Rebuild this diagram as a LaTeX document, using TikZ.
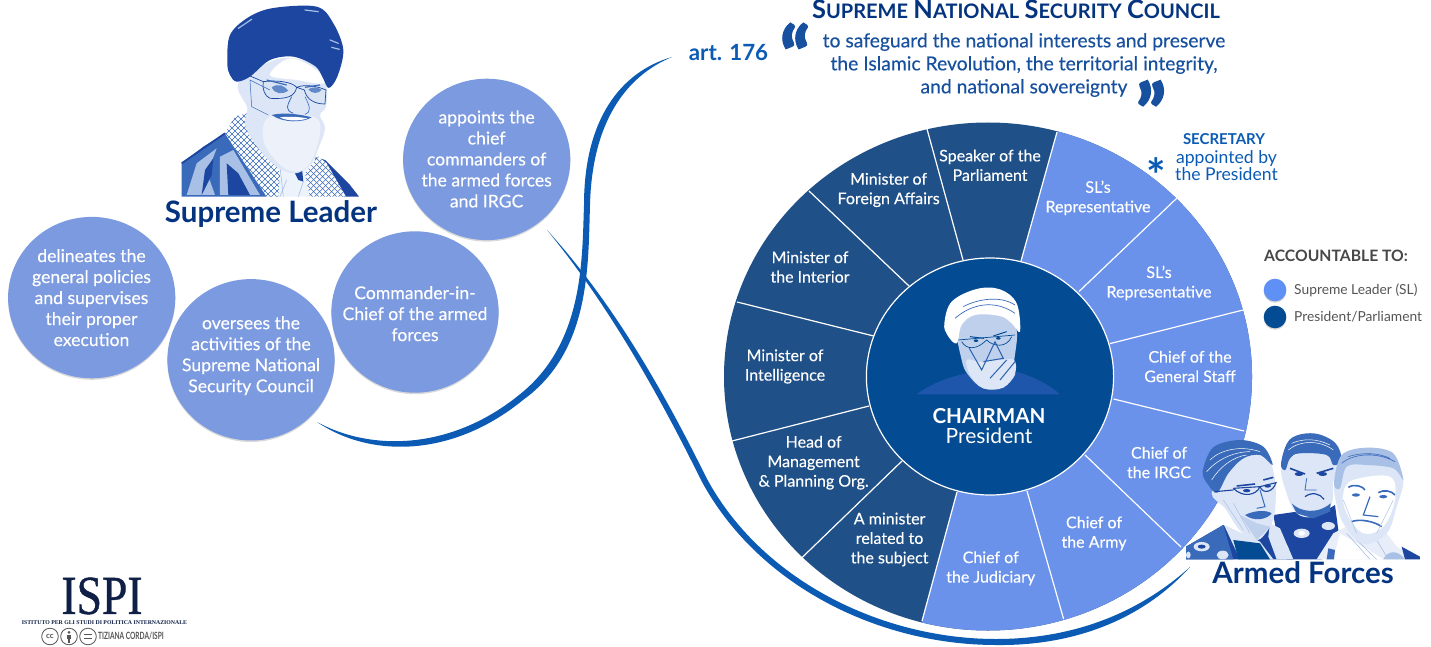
\documentclass[tikz,border=0pt]{standalone}
\usepackage{fontspec}
\setmainfont{Lato}
\newfontfamily\med{Lato}[FakeBold=0.25]
\newfontfamily\qm{Lato}[FakeBold=2.5]
\newfontfamily\serifish{Liberation Serif}
\newfontfamily\serifbold{Liberation Serif}[FakeBold=0.8]
\usetikzlibrary{shadows,calc}
\definecolor{darkslice}{HTML}{1F5087}
\definecolor{lightslice}{HTML}{6A92EA}
\definecolor{hubblue}{HTML}{034B92}
\definecolor{bubble}{HTML}{7C9ADF}
\definecolor{navy}{HTML}{04337F}
\definecolor{curveblue}{HTML}{0B5BB5}
\definecolor{quoteblue}{HTML}{17509E}
\definecolor{inkblue}{HTML}{1C46A0}
\definecolor{midink}{HTML}{3A6BBB}
\definecolor{paleink}{HTML}{A9C0E6}
\definecolor{skin}{HTML}{DCE6F6}
\definecolor{skinb}{HTML}{BFD0EC}
\definecolor{greytext}{HTML}{555555}
\definecolor{logonavy}{HTML}{0F1F45}
\definecolor{legendlight}{HTML}{5E90F5}
\definecolor{shoulder}{HTML}{1E56AC}
\newcommand{\smc}[2]{{\fontsize{25.4}{25}\selectfont #1}{\fontsize{20}{25}\selectfont #2}}
\tikzset{
  x=1pt,y=-1pt,
  bubbletext/.style={text=white,align=center,font=\med\fontsize{17.6}{21}\selectfont},
  slicetext/.style={text=white,align=center,font=\med\fontsize{16}{19.5}\selectfont},
  spoke/.style={white,line width=1.2pt},
  headline/.style={text=navy,font=\fontsize{29.5}{32}\selectfont\bfseries},
  quotetext/.style={text=quoteblue,align=center,font=\med\fontsize{19.3}{23}\selectfont},
  legendtext/.style={text=greytext,anchor=west,font=\fontsize{13.8}{16}\selectfont},
  softshadow/.style={drop shadow={shadow xshift=0pt,shadow yshift=-1.5pt,opacity=.15,fill=black}},
  zoomed/.style={x=.3333pt,y=-.3333pt},
  ink/.style={inkblue,line width=.7pt,line join=round},
}
\begin{document}
\begin{tikzpicture}
\useasboundingbox (0,0) rectangle (1431,647);
\fill[white] (0,0) rectangle (1431,647);

% ---------- bubbles
\foreach \n/\cx/\cy in {b1/91.7/297.6,b2/251/359.8,b3/415/312,b4/486.7/159.4}{
  \path[fill=bubble,softshadow] (\cx,\cy) ellipse [x radius=83.6pt,y radius=80.7pt];
  \coordinate (\n) at (\cx,\cy);
}
\node[bubbletext] (t1) at (91.5,297.6) {delineates the\\general policies\\and supervises\\their proper\\execution};
\node[bubbletext] (t2) at (251,355.7) {oversees the\\activities of the\\Supreme National\\Security Council};
\node[bubbletext] (t3) at (415,313.7) {Commander-in-\\Chief of the armed\\forces};
\node[bubbletext] (t4) at (486.6,159) {appoints the\\chief\\commanders of\\the armed forces\\and IRGC};

% ---------- wheel
\coordinate (oc) at (988,376.5);
\coordinate (ic) at (990,376.5);
\begin{scope}
  \clip (oc) ellipse [x radius=264pt,y radius=254pt];
  \fill[darkslice] (700,90) rectangle (1280,660);
  \fill[lightslice] (990,376.5) -- (1021,261) -- (1093,3) -- (1400,3) -- (1400,800) -- (887,750) -- (957,492) -- cycle;
\end{scope}
\draw[spoke] (1021,261) -- (1057,132);
\draw[spoke] (1079,291.5) -- (1177,198);
\draw[spoke] (1110,343.6) -- (1243,310);
\draw[spoke] (1113.6,399) -- (1244,431);
\draw[spoke] (1085,455) -- (1181,547);
\draw[spoke] (1027,491) -- (1063.6,619);
\draw[spoke] (957,492) -- (922,621);
\draw[spoke] (902,461) -- (802,557.6);
\draw[spoke] (869,406) -- (732,441);
\draw[spoke] (873.6,336) -- (737,302);
\draw[spoke] (909,286) -- (809,191);
\draw[spoke] (963,260) -- (927,129);
\draw[fill=hubblue,draw=white,line width=1.2pt] (ic) ellipse [x radius=123.6pt,y radius=118.5pt];

\node[slicetext] (s1) at (990,165.3) {Speaker of the\\Parliament};
\node[slicetext] (s2) at (888.6,190) {Minister of\\Foreign Affairs};
\node[slicetext] (s3) at (810,267) {Minister of\\the Interior};
\node[slicetext] (s4) at (785,366.5) {Minister of\\Intelligence};
\node[slicetext] (s5) at (813.6,462.7) {Head of\\Management\\\& Planning Org.};
\node[slicetext] (s6) at (889.6,539.5) {A minister\\related to\\the subject};
\node[slicetext] (s7) at (990.7,568.3) {Chief of\\the Judiciary};
\node[slicetext] (s8) at (1094,533.4) {Chief of\\the Army};
\node[slicetext] (s9) at (1159,462.5) {Chief of\\the IRGC};
\node[slicetext] (s10) at (1190,366.5) {Chief of the\\General Staff};
\node[slicetext] (s11) at (1159,283) {SL’s\\Representative};
\node[slicetext] (s12) at (1098,197.8) {SL’s\\Representative};

\node[text=white,font=\fontsize{20.6}{22}\selectfont\bfseries] (chair) at (989,416) {CHAIRMAN};
\node[text=white,font=\fontsize{21}{24}\selectfont] (pres) at (989,435.5) {President};

% ---------- sweeping curves
\fill[curveblue] (317,422) .. controls (370,451) and (450,451) .. (519,395)
  .. controls (584,344) and (582,260) .. (584,205)
  .. controls (584,120) and (620,72) .. (672,57)
  .. controls (626,76) and (592,122) .. (590,205)
  .. controls (588,265) and (591,351) .. (523,400)
  .. controls (452,458) and (370,458) .. (317,422) -- cycle;
\fill[curveblue] (547,230) .. controls (610,299) and (660,384) .. (706,477)
  .. controls (760,579) and (880,639) .. (996,639)
  .. controls (1075,639) and (1140,612) .. (1190,567)
  .. controls (1143,619) and (1075,646) .. (996,645)
  .. controls (878,645) and (757,585) .. (701,480)
  .. controls (655,387) and (606,302) .. (547,230) -- cycle;

% ---------- headings
\node[headline] (sl) at (271,214) {Supreme Leader};
\node[headline] (af) at (1303,573) {Armed Forces};
\node[text=curveblue,font=\fontsize{22.3}{24}\selectfont\bfseries] (art) at (728.5,53) {art. 176};
\node[text=navy,font=\bfseries] (title) at (1016,9.5) {\smc{S}{UPREME}\hspace{3pt} \smc{N}{ATIONAL}\hspace{3pt} \smc{S}{ECURITY}\hspace{3pt} \smc{C}{OUNCIL}};
\node[quotetext] (q) at (1024,65) {to safeguard the national interests and preserve\\the Islamic Revolution, the territorial integrity,\\and national sovereignty};
\node[text=quoteblue,font=\qm\bfseries\fontsize{78}{78}\selectfont] (qo) at (795,54) {“};
\node[text=quoteblue,font=\qm\bfseries\fontsize{78}{78}\selectfont] (qc) at (1151,111) {”};
\node[text=curveblue,font=\fontsize{15}{16}\selectfont\bfseries] (sec) at (1224,139) {SECRETARY};
\node[text=curveblue,align=center,font=\fontsize{17.6}{15}\selectfont] (app) at (1226.5,166) {appointed by\\the President};
\node[text=curveblue,font=\fontsize{46}{46}\selectfont\bfseries] (ast) at (1156,175) {*};

% ---------- legend
\node[text=greytext!85!black,anchor=west,inner sep=0pt,font=\fontsize{15.7}{18}\selectfont\bfseries] (lg) at (1264,256) {ACCOUNTABLE TO:};
\path[fill=legendlight,softshadow] (1275,290) circle [radius=11.3pt];
\path[fill=hubblue,softshadow] (1275,317) circle [radius=11.3pt];
\coordinate (l1) at (1275,290);
\coordinate (l2) at (1275,317);
\node[legendtext,inner sep=0pt] (lt1) at (1294,290) {Supreme Leader (SL)};
\node[legendtext,inner sep=0pt] (lt2) at (1294,317) {President/Parliament};

% ---------- logo
\node[text=logonavy,inner sep=0pt,font=\serifbold\fontsize{55}{55}\selectfont,xscale=.83,transform shape] (ispi) at (102,596) {ISPI};
\node[text=logonavy,inner sep=0pt,font=\serifish\bfseries\fontsize{5.8}{7}\selectfont] (ist) at (104.5,622.5) {ISTITUTO PER GLI STUDI DI POLITICA INTERNAZIONALE};
\foreach \cx in {50,69,88}{\draw[greytext,line width=.8pt] (\cx,636.5) circle [radius=8.3pt];}
\node[text=greytext,inner sep=0pt,font=\fontsize{8}{8}\selectfont\bfseries] (cc) at (50,636.5) {cc};
\fill[greytext] (69,632.3) circle [radius=1.5pt];
\fill[greytext] (67,634.7) rectangle (71,639);
\fill[greytext] (67.8,639) rectangle (70.2,642.5);
\draw[greytext,line width=1pt] (84,634.8) -- (92,634.8) (84,638.2) -- (92,638.2);
\node[text=greytext,anchor=west,inner sep=0pt,font=\fontsize{10}{12}\selectfont\bfseries,xscale=.66,transform shape] (tz) at (98,636.5) {TIZIANA CORDA/ISPI};

% ---------- Supreme Leader portrait
\begin{scope}[shift={(170,0)},zoomed]
  % robe
  \fill[midink] (35,590) -- (35,490) -- (100,440) -- (165,400) -- (310,590) -- cycle;
  \fill[paleink] (50,585) -- (80,490) -- (140,445) -- (112,520) -- (135,585) -- cycle;
  \fill[inkblue] (95,585) -- (105,510) -- (130,475) -- (125,525) -- cycle;
  \fill[paleink] (150,585) -- (150,470) -- (190,450) -- (270,585) -- cycle;
  \fill[inkblue] (175,585) -- (170,490) -- (205,520) -- (240,585) -- cycle;
  \draw[inkblue,line width=1.8pt] (35,490) -- (165,400);
  \fill[inkblue] (430,470) -- (465,480) -- (540,555) -- (567,590) -- (520,590) -- (440,490) -- cycle;
  % chest
  \fill[skin!50!white] (220,400) -- (440,450) -- (420,590) -- (290,590) -- cycle;
  \fill[inkblue] (370,510) -- (395,495) -- (400,545) -- (385,540) -- cycle;
  \draw[paleink,line width=.6pt] (330,500) -- (340,590) (400,545) -- (385,590) (350,540) -- (330,590);
  % scarf check
  \begin{scope}
    \clip (165,400) -- (195,350) -- (230,340) -- (330,520) -- (325,590) -- (290,590) -- cycle;
    \fill[white] (150,330) rectangle (340,600);
    \foreach \d in {-300,-282,...,400}{\draw[midink,line width=.6pt] (\d,330) -- (\d+270,600) (\d+270,330) -- (\d,600);}
  \end{scope}
  \begin{scope}
    \clip (405,520) -- (445,470) -- (470,490) -- (528,590) -- (420,590) -- cycle;
    \fill[white] (400,460) rectangle (540,600);
    \foreach \d in {100,118,...,700}{\draw[midink,line width=.6pt] (\d,460) -- (\d+140,600) (\d+140,460) -- (\d,600);}
  \end{scope}
  % face and beard
  \fill[skin] plot[smooth cycle,tension=.6] coordinates {(205,250) (300,185) (375,175) (445,205) (470,260) (468,320) (450,345) (465,385) (445,445) (420,495) (375,520) (320,500) (265,445) (225,375) (232,325)};
  \fill[white] plot[smooth cycle,tension=.6] coordinates {(360,175) (440,210) (462,250) (380,240) (300,225)};
  \fill[white!45!skin] plot[smooth cycle,tension=.6] coordinates {(300,350) (430,350) (450,400) (420,490) (375,515) (325,490) (280,420)};
  \foreach \a/\b/\c/\d in {250,320,300,420, 290,370,330,480, 330,370,350,500, 370,380,370,510, 410,375,395,490, 270,400,340,450, 300,440,400,420, 240,270,280,400, 260,350,330,310, 280,430,360,400, 320,470,420,440, 350,380,300,470, 400,380,350,470, 440,390,390,470, 255,320,290,300, 230,330,265,300, 300,400,260,440, 310,380,345,440, 360,370,390,450, 405,440,350,495, 330,420,400,395}{
    \draw[paleink!80!midink,line width=.5pt] (\a,\b) -- (\c,\d);
  }
  \foreach \a/\b/\c/\d in {440,350,452,385, 455,400,440,440, 430,445,415,480, 465,350,470,395}{
    \draw[inkblue,line width=.7pt] (\a,\b) -- (\c,\d);
  }
  % mouth, nose
  \fill[midink] (305,345) .. controls (345,335) and (400,345) .. (425,352) .. controls (400,368) and (340,370) .. cycle;
  \fill[white] (330,352) .. controls (360,348) and (395,352) .. (412,355) .. controls (390,364) and (350,364) .. cycle;
  \draw[midink,line width=.8pt] (365,290) .. controls (350,320) and (345,330) .. (370,340);
  \draw[midink,line width=.6pt] (405,290) .. controls (420,320) and (425,335) .. (405,343);
  % turban
  \fill[inkblue] plot[smooth cycle,tension=.55] coordinates {(172,190) (180,105) (235,52) (310,24) (440,20) (490,70) (520,150) (502,230) (476,264) (458,232) (435,198) (370,170) (300,180) (240,230) (200,245) (180,225)};
  \draw[paleink,line width=1.2pt,line cap=round] (205,85) -- (245,58) (480,120) -- (505,130) (485,142) -- (508,148) (405,30) -- (445,35);
  % glasses and eyes
  \fill[skinb!60!white] (280,245) .. controls (320,240) and (365,245) .. (380,262) .. controls (375,290) and (350,298) .. (300,295) .. controls (285,290) and (275,265) .. cycle;
  \fill[skinb!60!white] (403,270) .. controls (410,250) and (450,262) .. (468,270) -- (465,312) .. controls (435,312) and (410,300) .. cycle;
  \draw[ink] (240,228) -- (280,245) .. controls (320,240) and (365,245) .. (380,262) .. controls (375,290) and (350,298) .. (300,295) .. controls (285,290) and (275,265) .. (280,245);
  \draw[ink] (380,262) .. controls (410,250) and (450,262) .. (468,270) -- (465,312) .. controls (435,312) and (410,300) .. (403,270) -- (380,262);
  \fill[midink!80!white] (305,262) .. controls (325,248) and (345,258) .. (355,272) .. controls (335,285) and (315,282) .. cycle;
  \fill[midink!80!white] (415,268) .. controls (430,258) and (445,262) .. (455,270) .. controls (445,282) and (425,282) .. cycle;
  \draw[midink,line width=1.2pt] (290,240) -- (350,255) (405,262) -- (450,255);
  \draw[midink,line width=.5pt] (300,270) -- (240,240) -- (245,320) -- (295,345);
\end{scope}

% ---------- Chairman portrait
\begin{scope}[shift={(860,260)},zoomed]
  \fill[shoulder] (170,403) .. controls (215,370) and (270,350) .. (320,340) -- (470,335) .. controls (520,350) and (570,375) .. (600,403) -- cycle;
  \fill[skinb] plot[smooth cycle,tension=.6] coordinates {(290,190) (345,150) (430,160) (470,210) (462,310) (465,345) (430,380) (370,385) (325,345) (305,300)};
  \fill[skin] plot[smooth cycle,tension=.6] coordinates {(320,300) (360,305) (420,300) (462,300) (465,340) (430,383) (370,385) (330,345)};
  \fill[white] plot[smooth cycle,tension=.6] coordinates {(253,190) (275,125) (350,87) (420,88) (470,130) (480,215) (455,190) (420,168) (345,165) (305,195) (290,250) (262,225)};
  \draw[midink,line width=.7pt] (285,175) .. controls (330,135) and (400,115) .. (465,160) (310,140) .. controls (350,118) and (420,105) .. (465,135);
  \draw[hubblue,line width=.7pt] (295,240) -- (465,225) (305,245) .. controls (320,270) and (350,270) .. (380,240) .. controls (400,260) and (440,265) .. (455,230);
  \draw[hubblue,line width=1pt] (330,230) -- (372,235) (400,228) -- (440,215);
  \fill[hubblue] (348,242) ellipse [x radius=7,y radius=4] (415,235) ellipse [x radius=7,y radius=4];
  \draw[midink!70!hubblue,line width=1pt] (328,265) -- (365,330) -- (405,245) -- (430,295) -- (370,305) (390,355) -- (440,300) (420,360) -- (465,305);
\end{scope}

% ---------- Armed Forces portraits
\begin{scope}[shift={(1100,400)},zoomed]
  % middle man
  \fill[inkblue] (520,345) -- (590,335) -- (640,355) -- (705,315) -- (715,390) -- (665,478) -- (560,478) -- (530,400) -- cycle;
  \fill[skin] plot[smooth cycle,tension=.6] coordinates {(548,195) (640,150) (722,185) (700,245) (695,310) (640,350) (590,340) (560,280)};
  \fill[midink] plot[smooth cycle,tension=.6] coordinates {(543,190) (570,118) (640,100) (705,128) (725,180) (700,195) (680,165) (600,160) (570,175) (556,210)};
  \draw[white,line width=.5pt] (565,150) .. controls (600,120) and (660,120) .. (700,150) (575,130) .. controls (610,115) and (650,115) .. (690,135);
  \draw[inkblue,line width=1.6pt] (570,205) -- (615,222) (650,220) -- (700,205);
  \fill[inkblue] (597,222) ellipse [x radius=13,y radius=6] (668,222) ellipse [x radius=13,y radius=6];
  \draw[inkblue,line width=1.2pt] (615,290) .. controls (635,275) and (660,280) .. (672,298);
  \fill[midink] (575,310) .. controls (600,335) and (650,345) .. (692,310) -- (690,335) -- (640,355) -- (590,340) -- cycle;
  \draw[midink,line width=.8pt] (620,235) -- (615,270) -- (650,270);
  \fill[skin] (605,400) ellipse [x radius=24,y radius=14];
  \fill[white] (605,400) ellipse [x radius=10,y radius=7];
  \fill[skin] (685,378) ellipse [x radius=20,y radius=12];
  % left man
  \fill[inkblue] (258,478) -- (258,440) -- (370,375) -- (420,400) -- (470,420) -- (510,370) -- (580,478) -- cycle;
  \fill[midink] (258,478) -- (258,440) -- (370,375) -- (400,478) -- cycle;
  \fill[skin] (372,375) -- (420,478) -- (520,478) -- (480,425) -- cycle;
  \fill[hubblue] (400,420) -- (415,478) -- (510,478) -- (480,430) -- cycle;
  \fill[skin] (510,370) -- (540,385) -- (580,478) -- (530,478) -- (505,410) -- cycle;
  \fill[skin] (305,440) ellipse [x radius=24,y radius=14];
  \fill[inkblue] (305,440) ellipse [x radius=12,y radius=6];
  \fill[skin] (265,465) ellipse [x radius=7,y radius=10];
  \fill[skin] (555,455) ellipse [x radius=12,y radius=22];
  \fill[skin] (368,465) ellipse [x radius=18,y radius=13];
  \fill[skin] plot[smooth cycle,tension=.6] coordinates {(335,280) (380,210) (440,170) (500,170) (525,240) (525,330) (510,380) (470,422) (420,392) (375,325)};
  \fill[skinb] (420,345) -- (470,420) -- (510,380) -- (470,370) -- cycle;
  \fill[midink] plot[smooth cycle,tension=.55] coordinates {(308,215) (340,142) (420,120) (490,140) (518,195) (480,165) (430,175) (385,220) (352,278) (325,255)};
  \draw[white,line width=.5pt] (330,180) .. controls (360,150) and (420,135) .. (480,155) (320,215) .. controls (350,180) and (400,155) .. (450,155) (335,240) .. controls (360,200) and (400,170) .. (440,165);
  \draw[inkblue,line width=1.1pt] (345,275) -- (400,270) (400,265) .. controls (430,295) and (470,285) .. (480,260) -- (400,265) (480,260) .. controls (490,285) and (520,275) .. (528,248) -- (480,260);
  \draw[inkblue,line width=1.6pt] (410,258) -- (465,252) (490,240) -- (520,232);
  \fill[inkblue] (440,272) ellipse [x radius=11,y radius=5] (503,258) ellipse [x radius=10,y radius=5];
  \draw[midink,line width=1pt] (480,270) -- (495,320) -- (470,325);
  \fill[midink] (435,345) .. controls (465,330) and (500,330) .. (515,340) .. controls (500,360) and (460,365) .. cycle;
  \draw[paleink,line width=.5pt] (370,300) -- (430,390) (400,310) -- (450,400);
  % right man
  \fill[skin!70!white] (650,478) -- (700,400) -- (740,380) -- (790,430) -- (860,400) -- (890,440) -- (960,478) -- cycle;
  \fill[white] (720,400) -- (790,440) -- (850,478) -- (700,478) -- cycle;
  \fill[inkblue] (905,440) -- (960,470) -- (960,478) -- (915,478) -- cycle;
  \fill[midink] (680,478) -- (685,445) -- (705,450) -- (702,478) -- cycle;
  \fill[paleink] (850,478) .. controls (860,455) and (890,445) .. (915,478) -- cycle;
  \draw[paleink,line width=.6pt] (740,400) -- (810,478) (770,420) -- (830,478) (830,420) -- (860,470);
  \fill[skin] plot[smooth cycle,tension=.6] coordinates {(705,235) (730,175) (800,175) (880,185) (910,240) (890,320) (860,400) (790,432) (730,370) (705,290)};
  \fill[white] plot[smooth cycle,tension=.6] coordinates {(760,240) (870,230) (885,300) (850,380) (790,400) (740,340) (730,280)};
  \fill[paleink] plot[smooth cycle,tension=.55] coordinates {(702,250) (725,165) (800,143) (880,160) (910,240) (880,205) (800,195) (740,200) (720,265)};
  \draw[midink,line width=.6pt] (725,190) .. controls (760,160) and (830,155) .. (885,185) (745,170) .. controls (790,155) and (840,160) .. (870,175);
  \draw[midink,line width=1.6pt] (745,262) .. controls (765,250) and (790,260) .. (795,270) (835,278) .. controls (850,268) and (875,272) .. (885,285);
  \fill[midink] (768,285) ellipse [x radius=12,y radius=5] (850,290) ellipse [x radius=12,y radius=5];
  \draw[midink,line width=1.2pt] (810,290) -- (790,345) -- (835,350);
  \draw[midink,line width=1.6pt] (755,365) .. controls (780,355) and (825,365) .. (845,380);
  \draw[paleink,line width=.5pt] (730,300) -- (770,400) (880,300) -- (830,400);
\end{scope}
\end{tikzpicture}
\end{document}
